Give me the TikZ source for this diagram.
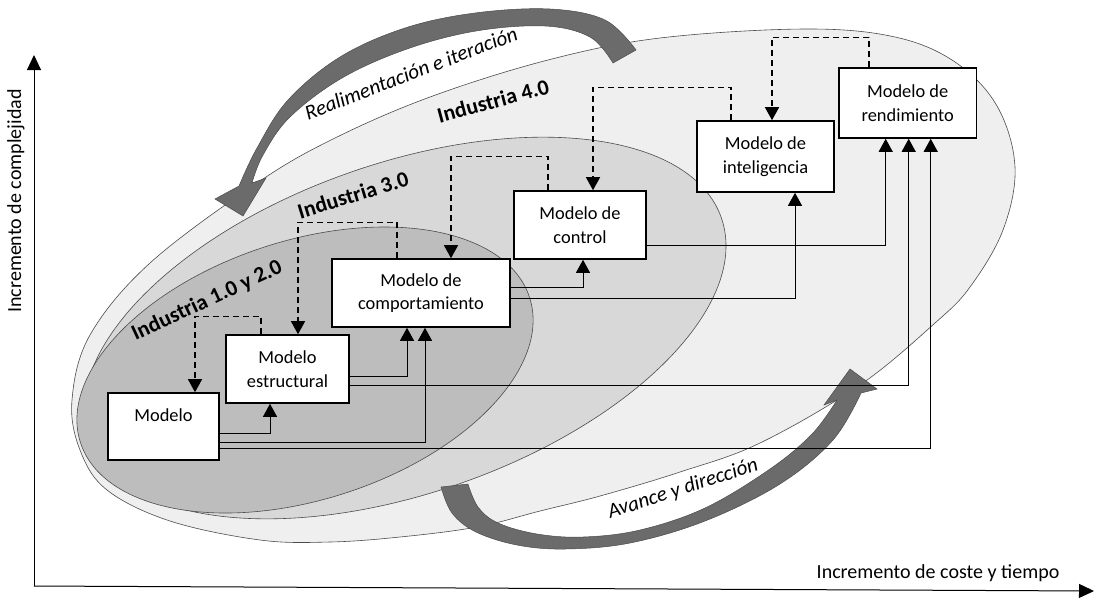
\documentclass[tikz,border=0pt]{standalone}
\usepackage{fontspec}
\setmainfont{Carlito}
\usetikzlibrary{arrows.meta}
\definecolor{zonefour}{HTML}{EFEFEF}
\definecolor{zonethree}{HTML}{D8D8D8}
\definecolor{zoneone}{HTML}{BDBDBD}
\definecolor{arrowgray}{HTML}{6B6B6B}
\begin{document}
\begin{tikzpicture}[x=1pt,y=-1pt,
  box/.style={draw=black, line width=1.6pt, fill=white, inner sep=0pt, align=center,
              font=\fontsize{18.4}{23.5}\selectfont},
  conn/.style={draw=black, line width=1pt, -{Triangle[length=13pt,width=14pt]}},
  fb/.style={draw=black, line width=1.4pt, dash pattern=on 6pt off 4pt,
             -{Triangle[length=13pt,width=14pt]}},
  axisline/.style={draw=black, line width=1pt, -{Triangle[length=15pt,width=14pt]}},
  era/.style={font=\bfseries\fontsize{22}{26}\selectfont},
  loop/.style={font=\itshape\fontsize{21}{25}\selectfont},
  zone/.style={draw=black!70, line width=0.6pt},
  bigarrow/.style={fill=arrowgray, draw=black!70, line width=0.5pt},
  axlabel/.style={font=\fontsize{20}{24}\selectfont},
]
\useasboundingbox (0,0) rectangle (1095,598);

% industry eras
\filldraw[zone, fill=zonefour] plot[smooth cycle, tension=0.6] coordinates {
  (72,400) (90,335) (150,263) (257,183) (333,139) (430,97) (548,60) (660,38)
  (805,29) (895,37) (955,62) (997,106) (1015,167) (1003,230) (970,287) (935,323)
  (860,385) (760,443) (680,472) (600,496) (540,511) (477,527) (400,537) (330,542)
  (260,540) (170,521) (107,490) (80,450)};
\filldraw[zone, fill=zonethree, rotate around={19.2:(405,328)}]
  (405,328) ellipse [x radius=335, y radius=165];
\filldraw[zone, fill=zoneone, rotate around={17.9:(305,370)}]
  (305,370) ellipse [x radius=236, y radius=129.5];

% feedback arrow (top)
\filldraw[bigarrow] plot[smooth, tension=0.6] coordinates {(636,50) (605,20) (550,9)
  (475,13) (405,28) (340,57) (288,100) (257,148) (239,186)}
  -- (215,199) -- (243,216) -- (266,178) -- (252,183)
  -- plot[smooth, tension=0.6] coordinates {(252,183) (263,155) (290,117) (342,78)
  (407,49) (476,31) (545,26) (590,37) (613,63)} -- cycle;

% progress arrow (bottom)
\filldraw[bigarrow] plot[smooth, tension=0.6] coordinates {(441,487) (452,513) (476,532)
  (517,545) (565,549) (630,543) (705,521) (780,484) (833,440) (861,393)}
  -- (877,389) -- (850,369) -- (824,405)
  -- plot[smooth, tension=0.6] coordinates {(837,400) (812,434) (770,469) (705,508)
  (640,530) (583,537) (537,534) (498,523) (478,507) (468,484)} -- cycle;

% labels
\node[loop, rotate=21] (loop) at (411,73) {Realimentación e iteración};
\node[loop, rotate=18] (avance) at (683,489) {Avance y dirección};
\node[era, rotate=25] (era12) at (207,301) {Industria 1.0 y 2.0};
\node[era, rotate=17] (era3) at (353,195) {Industria 3.0};
\node[era, rotate=15] (era4) at (493,101) {Industria 4.0};

% axes
\coordinate (origin) at (34,586);
\coordinate (ytop) at (34,55);
\coordinate (xend) at (1094,591);
\draw[axisline] (origin) -- (ytop);
\draw[axisline] (origin) -- (xend);
\node[axlabel, rotate=90] (ylab) at (16,201) {Incremento de complejidad};
\node[axlabel] (xlab) at (938,573) {Incremento de coste y tiempo};

% models
\node[box, minimum width=111pt, minimum height=67pt] (m0) at (163.5,426.5) {Modelo\\\mbox{}};
\node[box, minimum width=123pt, minimum height=68pt] (m1) at (287.5,369) {Modelo\\estructural};
\node[box, minimum width=178pt, minimum height=68pt] (m2) at (421,293) {Modelo de\\comportamiento};
\node[box, minimum width=132pt, minimum height=68pt] (m3) at (580,225) {Modelo de\\control};
\node[box, minimum width=137pt, minimum height=71pt] (m4) at (765.5,156.5) {Modelo de\\inteligencia};
\node[box, minimum width=137.5pt, minimum height=70pt] (m5) at (907.7,103) {Modelo de\\rendimiento};

% forward flow
\draw[conn] ([yshift=-6.5pt]m0.east) -| ([xshift=-17.5pt]m1.south);
\draw[conn] ([yshift=-15.5pt]m0.east) -| ([xshift=4pt]m2.south);
\draw[conn] ([yshift=-21.5pt]m0.east) -| ([xshift=23pt]m5.south);
\draw[conn] ([yshift=-7pt]m1.east) -| ([xshift=-14pt]m2.south);
\draw[conn] ([yshift=-16pt]m1.east) -| ([xshift=1pt]m5.south);
\draw[conn] ([yshift=6pt]m2.east) -| ([xshift=3pt]m3.south);
\draw[conn] ([yshift=-5pt]m2.east) -| ([xshift=29.5pt]m4.south);
\draw[conn] ([yshift=-20pt]m3.east) -| ([xshift=-22pt]m5.south);

% feedback flow
\draw[fb] ([xshift=-26.5pt]m1.north) -- ++(0,-18) -| ([xshift=31.5pt]m0.north);
\draw[fb] ([xshift=-24pt]m2.north) -- ++(0,-36) -| ([xshift=10.5pt]m1.north);
\draw[fb] ([xshift=-32pt]m3.north) -- ++(0,-34) -| ([xshift=30pt]m2.north);
\draw[fb] ([xshift=-34.5pt]m4.north) -- ++(0,-33) -| ([xshift=13pt]m3.north);
\draw[fb] ([xshift=-38.7pt]m5.north) -- ++(0,-30) -| ([xshift=6.5pt]m4.north);
\end{tikzpicture}
\end{document}
